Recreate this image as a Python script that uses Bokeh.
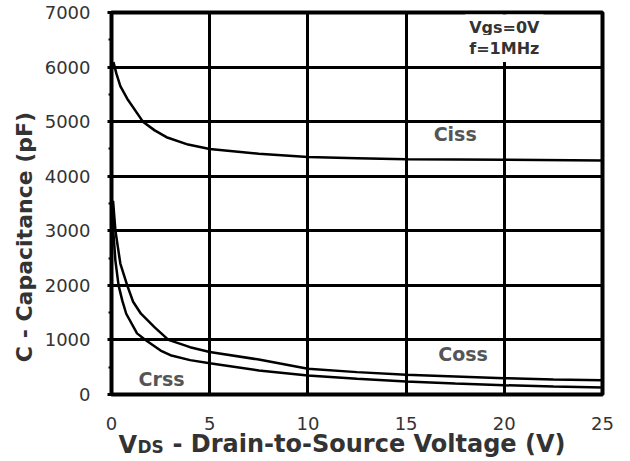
import math
from bokeh.plotting import figure
from bokeh.layouts import row, column
from bokeh.models import Range1d, Label, FixedTicker
from bokeh.embed import file_html
from bokeh.resources import INLINE

# ---- data ----
ciss_v = [0.1, 0.25, 0.45, 0.8, 1.6, 2.2, 2.8, 3.9, 5, 7.5, 10, 12.5, 15, 20, 25]
ciss_c = [6090, 5880, 5650, 5420, 5000, 4840, 4715, 4580, 4500, 4410, 4350, 4330, 4310, 4300, 4290]

coss_v = [0.08, 0.2, 0.45, 0.8, 1.1, 1.5, 2.2, 2.9, 4, 5, 7.5, 10, 12.5, 15, 17.5, 20, 22.5, 25]
coss_c = [3550, 3000, 2400, 2000, 1700, 1480, 1230, 1000, 867, 780, 640, 470, 410, 360, 330, 300, 275, 260]

crss_v = [0.03, 0.09, 0.2, 0.36, 0.55, 0.75, 1.3, 1.73, 2.5, 3, 4, 5, 7.5, 10, 12.5, 15, 17.5, 20, 22.5, 25]
crss_c = [3500, 3000, 2450, 2000, 1720, 1480, 1120, 1000, 806, 720, 630, 574, 440, 348, 287, 240, 200, 170, 145, 130]

x_ticks = [0, 5, 10, 15, 20, 25]
y_ticks = [0, 1000, 2000, 3000, 4000, 5000, 6000, 7000]

series_names = ["Ciss", "Coss", "Crss"]
conditions = ["Vgs=0V", "f=1MHz"]
y_title = "C - Capacitance (pF)"
x_title = ["V", "DS", "- Drain-to-Source Voltage (V)"]

FONT = "DejaVu Sans"
TXT = "#333333"

# ---- layout geometry (pixels) ----
LEFT_W = 40          # width of the y-title strip
MAIN_W = 590
MAIN_H = 406
BOT_H = 461 - MAIN_H
B_LEFT, B_RIGHT, B_TOP, B_BOTTOM = 71, 28, 12, 12
frame_w = MAIN_W - B_LEFT - B_RIGHT

# ---- main plot ----
p = figure(width=MAIN_W, height=MAIN_H, output_backend="svg", toolbar_location=None,
           x_range=Range1d(x_ticks[0], x_ticks[-1]), y_range=Range1d(y_ticks[0], y_ticks[-1]),
           min_border_left=B_LEFT, min_border_right=B_RIGHT,
           min_border_top=B_TOP, min_border_bottom=B_BOTTOM)
p.frame_align = False
p.background_fill_color = "white"
p.border_fill_color = "white"
p.outline_line_color = "black"
p.outline_line_width = 4

y_minor = [(a + b) / 2 for a, b in zip(y_ticks[:-1], y_ticks[1:])]
p.xaxis.ticker = FixedTicker(ticks=x_ticks)
p.yaxis.ticker = FixedTicker(ticks=y_ticks, minor_ticks=y_minor)
p.xgrid.ticker = FixedTicker(ticks=x_ticks)
p.ygrid.ticker = FixedTicker(ticks=y_ticks)
p.xaxis.visible = False

for g in (p.xgrid, p.ygrid):
    g.grid_line_color = "black"
    g.grid_line_width = 3

p.yaxis.axis_line_color = None
p.yaxis.major_label_text_font = FONT
p.yaxis.major_label_text_font_size = "18px"
p.yaxis.major_label_text_color = TXT
p.yaxis.axis_label = None
p.yaxis.major_tick_in = 0
p.yaxis.major_tick_out = 4
p.yaxis.major_tick_line_width = 3
p.yaxis.minor_tick_in = 0
p.yaxis.minor_tick_out = 3
p.yaxis.minor_tick_line_width = 2
p.yaxis.major_label_standoff = 17

for xs, ys in ((ciss_v, ciss_c), (coss_v, coss_c), (crss_v, crss_c)):
    p.line(xs, ys, line_color="black", line_width=2.5)

# curve labels
label_pos = [(17.5, 4780), (17.9, 750), (2.55, 290)]
for name, (lx, ly) in zip(series_names, label_pos):
    p.add_layout(Label(x=lx, y=ly, text=name, text_align="center", text_baseline="middle",
                       text_font=FONT, text_font_size="19px", text_font_style="bold",
                       text_color="#555555"))

# conditions box
cond_pos = [(20, 6716), (20, 6340)]
for txt, (lx, ly) in zip(conditions, cond_pos):
    p.add_layout(Label(x=lx, y=ly, text=txt, text_align="center", text_baseline="middle",
                       text_font=FONT, text_font_size="16px", text_font_style="bold",
                       text_color=TXT, background_fill_color="white", padding=4))


def strip(w, h, xr):
    f = figure(width=w, height=h, output_backend="svg", toolbar_location=None,
               x_axis_location=None, y_axis_location=None, min_border=0,
               x_range=xr, y_range=Range1d(0, 1))
    f.frame_align = False
    f.outline_line_color = None
    f.background_fill_color = "white"
    f.border_fill_color = "white"
    for g in f.grid:
        g.visible = False
    return f


# ---- left strip: y axis title ----
pl = strip(LEFT_W, 461, Range1d(0, 1))
pl.add_layout(Label(x=24, y=224.5, x_units="screen", y_units="screen",
                    text=y_title, angle=math.pi / 2,
                    text_align="center", text_baseline="middle",
                    text_font=FONT, text_font_size="22px", text_font_style="bold",
                    text_color=TXT))

# ---- bottom strip: x tick labels and x axis title with subscript ----
# x range chosen so that the strip maps data x exactly like the main frame
per_px = (x_ticks[-1] - x_ticks[0]) / frame_w
xr_b = Range1d(x_ticks[0] - B_LEFT * per_px, x_ticks[-1] + B_RIGHT * per_px)
pb = strip(MAIN_W, BOT_H, xr_b)
for t in x_ticks:
    pb.add_layout(Label(x=t, y=38.5, y_units="screen", text=str(t),
                        text_align="center", text_baseline="alphabetic",
                        text_font=FONT, text_font_size="18px", text_color=TXT))
x_parts = [(78, 17, "24px"), (97, 15, "17px"), (132, 18, "24px")]
for txt, (sx, sy, fs) in zip(x_title, x_parts):
    pb.add_layout(Label(x=sx, y=sy, x_units="screen", y_units="screen", text=txt,
                        text_align="left", text_baseline="alphabetic",
                        text_font=FONT, text_font_size=fs, text_font_style="bold",
                        text_color=TXT))

layout = row(pl, column(p, pb))
open("out.html", "w").write(file_html(layout, INLINE))
